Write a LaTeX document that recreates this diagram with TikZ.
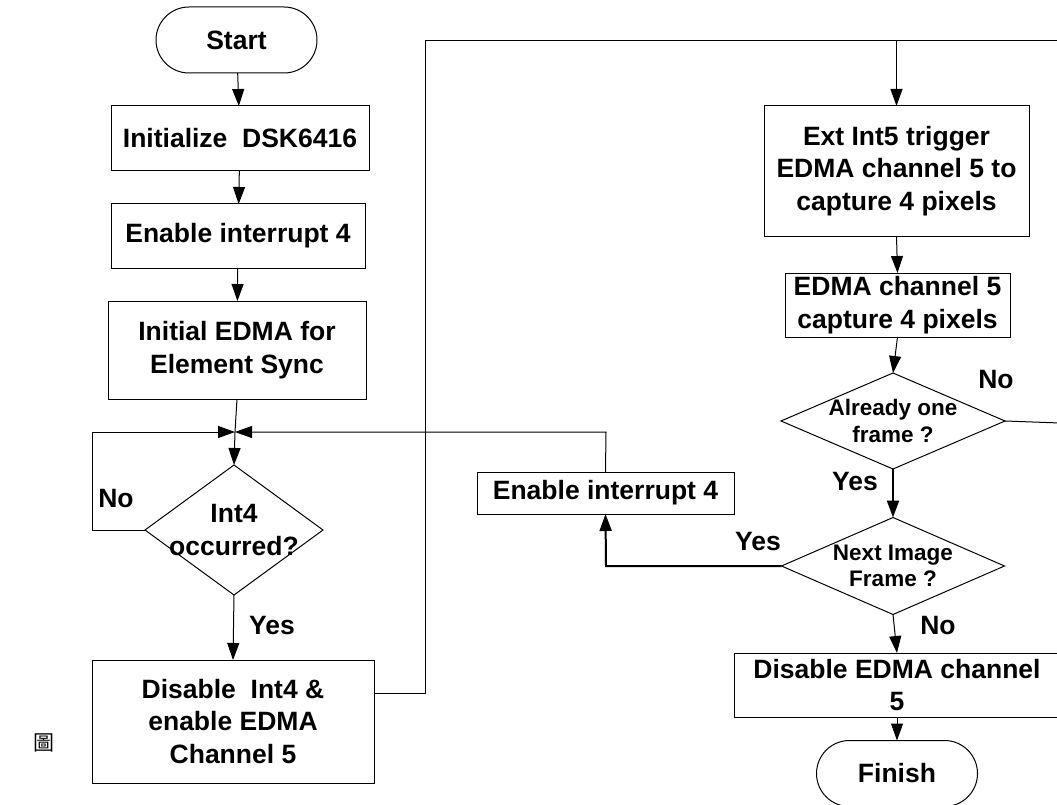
\documentclass[tikz,border=0pt]{standalone}
\usepackage{fontspec}
\setmainfont{Liberation Sans}
\newfontfamily\cjk{Noto Sans CJK TC}
\usetikzlibrary{arrows.meta,calc,shapes.geometric,shapes.misc}
\newcommand{\bigfont}{\bfseries\fontsize{26.5}{32.5}\selectfont}
\newcommand{\smallfont}{\bfseries\fontsize{22.5}{26.5}\selectfont}
\tikzset{
  box/.style={draw, line width=1pt, rectangle, inner sep=0pt, outer sep=0pt, align=center, font=\bigfont},
  term/.style={draw, line width=1pt, rounded rectangle, inner sep=0pt, outer sep=0pt, minimum width=161pt, minimum height=66pt, font=\bigfont},
  dia/.style={draw, line width=1pt, diamond, inner sep=0pt, outer sep=0pt},
  dtext/.style={align=center, inner sep=0pt},
  lbl/.style={font=\bigfont, inner sep=0pt},
  conn/.style={line width=1pt},
  arr/.style={line width=1pt, -{Triangle[length=17pt,width=12pt]}},
  tarr/.style={line width=2pt, -{Triangle[length=17pt,width=12pt]}},
}
\begin{document}
\begin{tikzpicture}[x=1pt,y=-1pt]
\useasboundingbox (0,0) rectangle (1057,805);
\clip (0,0) rectangle (1057,805);

% left column
\node[term] (start) at (236.5,40) {Start};
\node[box, minimum width=258pt, minimum height=65pt] (init) at (240,138.5) {Initialize~~DSK6416};
\node[box, minimum width=254pt, minimum height=64pt] (en4a) at (238,236) {Enable interrupt 4};
\node[box, minimum width=258pt, minimum height=98pt] (iedma) at (237,350) {Initial EDMA for\\Element Sync};
\coordinate (J) at (235,432);
\node[dia, minimum width=178pt, minimum height=130pt] (int4) at (234,530) {};
\node[dtext, font=\bigfont] (int4t) at (int4.center) {Int4\\occurred?};
\node[box, minimum width=282pt, minimum height=123pt] (dis4) at (233,721.5) {Disable~~Int4 \&\\enable EDMA\\Channel 5};

% middle
\node[box, minimum width=257pt, minimum height=42pt] (en4b) at (605.5,493) {Enable interrupt 4};

% right column
\node[box, minimum width=265pt, minimum height=130pt] (ext) at (896.5,171) {Ext Int5 trigger\\EDMA channel 5 to\\capture 4 pixels};
\node[box, minimum width=225pt, minimum height=64pt] (ed5) at (897.5,305) {EDMA channel 5\\capture 4 pixels};
\node[dia, minimum width=224pt, minimum height=96pt] (one) at (893,421) {};
\node[dtext, font=\smallfont] (onet) at (one.center) {Already one\\frame ?};
\node[dia, minimum width=223pt, minimum height=97pt] (next) at (893,566) {};
\node[dtext, font=\smallfont] (nextt) at (next.center) {Next Image\\Frame ?};
\node[box, minimum width=326pt, minimum height=64pt] (dised) at (897,685) {Disable EDMA channel\\5};
\node[term] (fin) at (897,773.5) {Finish};

% label
\node[font=\cjk\fontsize{21}{21}\selectfont, inner sep=0pt] (fig) at (44,743) {圖};

% coordinates for connectors
\coordinate (nl) at (92,530);
\coordinate (nlt) at (92,432);
\coordinate (e4t) at (606,432);
\coordinate (d4e) at (374,693);
\coordinate (d4r) at (425,693);
\coordinate (topl) at (425,41);
\coordinate (topr) at (1060,41);
\coordinate (topa) at (ext.north |- topl);
\coordinate (oner) at (1060,423);
\coordinate (ncorner) at (606,566);

% connectors
\draw[arr] (start) -- (init);
\draw[arr] (init) -- (en4a);
\draw[arr] (en4a) -- (iedma);
\draw[conn] (iedma.south) -- (J);
\draw[arr] (J) -- (int4.north);
\draw[arr] (int4.west) -- (nl) -- (nlt) -- (J);
\draw[arr] (en4b.north) -- (e4t) -- (J);
\draw[arr] (int4.south) -- (dis4.north);
\draw[conn] (d4e) -- (d4r) -- (topl) -- (topr);
\draw[arr] (topa) -- (ext.north);
\draw[arr] (ext.south) -- (ed5.north);
\draw[arr] (ed5.south) -- (one.north);
\draw[conn] (one.east) -- (oner);
\draw[tarr] (one.south) -- (next.north);
\draw[tarr] (next.west) -- (ncorner) -- (en4b.south);
\draw[arr] (next.south) -- (dised.north);
\draw[arr] (dised.south) -- (fin.north);

% branch labels
\node[lbl] (no1) at (116,499) {No};
\node[lbl] (yes1) at (272,626) {Yes};
\node[lbl] (no2) at (996,380) {No};
\node[lbl] (yes2) at (855,482) {Yes};
\node[lbl] (yes3) at (758,542) {Yes};
\node[lbl] (no3) at (938,626) {No};
\end{tikzpicture}
\end{document}
